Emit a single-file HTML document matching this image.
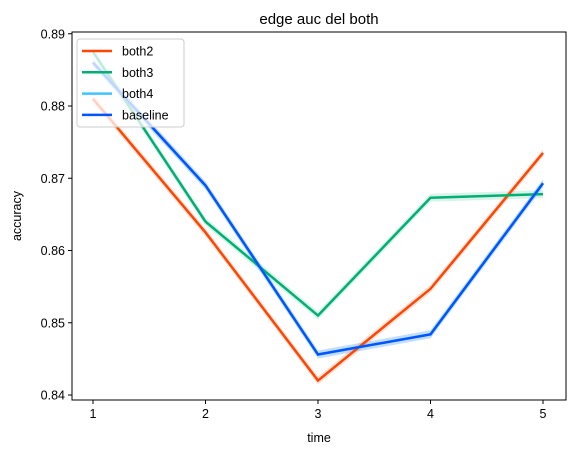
<!DOCTYPE html>
<html><head><style>
body{margin:0;background:#fff;font-family:"Liberation Sans","DejaVu Sans",sans-serif;}
</style></head><body>
<svg id="c" width="576" height="455" xmlns="http://www.w3.org/2000/svg"></svg>
<script>
const categories=[1,2,3,4,5];
const both2=[0.881,0.8625,0.842,0.8547,0.8735];
const both3=[0.8875,0.864,0.851,0.8673,0.8678];
const both4=[0.886,0.869,0.8456,0.8484,0.8693];
const baseline=[0.886,0.869,0.8456,0.8484,0.8693];
const yTicks=[0.84,0.85,0.86,0.87,0.88,0.89];
const seriesNames=["both2","both3","both4","baseline"];
const colors=["#ff4500","#00b073","#40c4ff","#0055ff"];
const svg=document.getElementById('c');
const NS="http://www.w3.org/2000/svg";
const L=72,R=566,T=32,B=400;
const x=v=>93+(v-1)*(543-93)/4;
const y=v=>106+(0.88-v)*7225;
function mk(t,a,p){const e=document.createElementNS(NS,t);for(const k in a)e.setAttribute(k,a[k]);(p||svg).appendChild(e);return e;}
const all=[both2,both3,both4,baseline];
all.forEach((s,i)=>{
  const band=s.map((v,j)=>[x(categories[j]),y(v)]);
  const up=band.map(p=>p[0]+','+(p[1]-4)).join(' ');
  const dn=band.slice().reverse().map(p=>p[0]+','+(p[1]+4)).join(' ');
  const b=mk('polygon',{points:up+' '+dn,fill:colors[i],opacity:0.15});
  
  
});
all.forEach((s,i)=>{
  const l=mk('polyline',{points:s.map((v,j)=>x(categories[j])+','+y(v)).join(' '),fill:'none',stroke:colors[i],'stroke-width':2.5});
  
  
});
const fr=mk('rect',{x:L,y:T,width:R-L,height:B-T,fill:'none',stroke:'#000','stroke-width':1});

categories.forEach(c=>{
  const t=mk('line',{x1:x(c),x2:x(c),y1:B,y2:B+4,stroke:'#000'});
  
  const tx=mk('text',{x:x(c),y:B+18,'text-anchor':'middle','font-size':12.5});tx.textContent=c;
  
});
yTicks.forEach(v=>{
  const t=mk('line',{x1:L-4,x2:L,y1:y(v),y2:y(v),stroke:'#000'});
  
  const tx=mk('text',{x:L-7,y:y(v)+4.5,'text-anchor':'end','font-size':12.5});tx.textContent=v.toFixed(2);
  
});
const ti=mk('text',{x:(L+R)/2,y:T-8,'text-anchor':'middle','font-size':15});ti.textContent='edge auc del both';

const xl=mk('text',{x:(L+R)/2,y:B+42,'text-anchor':'middle','font-size':12.5});xl.textContent='time';

const yl=mk('text',{x:21,y:(T+B)/2,'text-anchor':'middle','font-size':12.5,transform:'rotate(-90 21 '+(T+B)/2+')'});yl.textContent='accuracy';

const lg=mk('g',{});

mk('rect',{x:77,y:39,width:107,height:88,rx:3,fill:'#fff','fill-opacity':0.75,stroke:'#ccc'},lg);
seriesNames.forEach((n,i)=>{
  const yy=51+i*21.3;
  const ll=mk('line',{x1:82,x2:112,y1:yy,y2:yy,stroke:colors[i],'stroke-width':2.5},lg);
  
  const t=mk('text',{x:122,y:yy+4.5,'font-size':12.5},lg);t.textContent=n;
  
});
</script>
</body></html>
